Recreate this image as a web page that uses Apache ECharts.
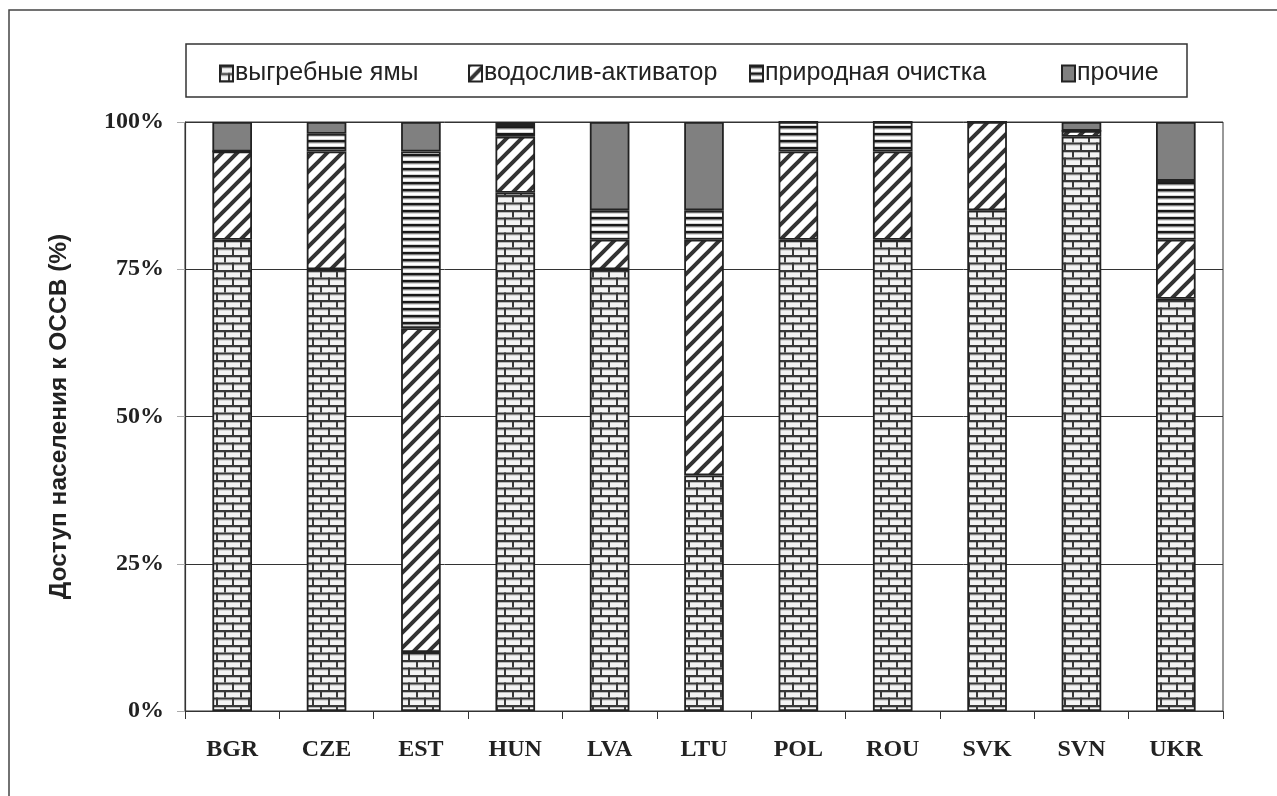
<!DOCTYPE html>
<html>
<head>
<meta charset="utf-8">
<script src="https://cdn.jsdelivr.net/npm/echarts@6/dist/echarts.min.js"></script>
<style>
html,body{margin:0;padding:0;background:#fff;}
#chart{width:1277px;height:796px;}
</style>
</head>
<body>
<div id="chart"></div>
<script>
// ---- data ----
const categories = ['BGR','CZE','EST','HUN','LVA','LTU','POL','ROU','SVK','SVN','UKR'];
const seriesNames = ['выгребные ямы','водослив-активатор','природная очистка','прочие'];
const pits      = [80, 75, 10, 88,  75, 40, 80, 80, 85, 97.5, 70];
const activator = [15, 20, 55, 9.5,  5, 40, 15, 15, 15, 1,    10];
const natural   = [ 0,  3, 30, 2,    5,  5,  5,  5,  0, 0,    10];
const other     = [ 5,  2,  5, 0.5, 15, 15,  0,  0,  0, 1.5,  10];
const yTicks = [0, 25, 50, 75, 100];

// ---- patterns ----
function makeCanvas(w, h) { const c = document.createElement('canvas'); c.width = w; c.height = h; return c; }
function brick() {
  const W = 32, H = 15, c = makeCanvas(W, H), g = c.getContext('2d');
  g.fillStyle = '#f3f3f3'; g.fillRect(0, 0, W, H);
  g.fillStyle = '#bbb';
  g.fillRect(0, 2, W, 1); g.fillRect(0, 9.5, W, 1);
  g.fillStyle = '#383838';
  g.fillRect(0, 0, W, 2); g.fillRect(0, 7.5, W, 2);
  g.fillRect(0, 0, 2, 7.5); g.fillRect(16, 0, 2, 7.5);
  g.fillRect(8, 7.5, 2, 7.5); g.fillRect(24, 7.5, 2, 7.5);
  return c;
}
function diag() {
  const s = 15, c = makeCanvas(s, s), g = c.getContext('2d');
  g.fillStyle = '#fff'; g.fillRect(0, 0, s, s);
  g.strokeStyle = '#333'; g.lineWidth = 4; g.lineCap = 'square';
  g.beginPath();
  g.moveTo(-s, s); g.lineTo(s, -s);
  g.moveTo(0, s); g.lineTo(s, 0);
  g.moveTo(0, 2 * s); g.lineTo(2 * s, 0);
  g.stroke();
  return c;
}
function hstripe() {
  const c = makeCanvas(4, 7.3 * 10 / 10 | 0 || 7), g = c.getContext('2d');
  const h = c.height;
  g.fillStyle = '#fff'; g.fillRect(0, 0, 4, h);
  g.fillStyle = '#1a1a1a'; g.fillRect(0, 0, 4, 2.6);
  g.fillStyle = '#999'; g.fillRect(0, 2.6, 4, 0.8);
  g.fillStyle = '#ccc'; g.fillRect(0, h - 0.8, 4, 0.8);
  return c;
}
const fills = [
  { image: brick(), repeat: 'repeat' },
  { image: diag(), repeat: 'repeat' },
  { image: hstripe(), repeat: 'repeat' },
  '#808080'
];
const values = [pits, activator, natural, other];

const chart = echarts.init(document.getElementById('chart'), null, { renderer: 'canvas' });

const legendX = [219, 468, 749, 1061];
const legends = seriesNames.map((n, i) => ({
  data: [n],
  left: legendX[i],
  top: 61,
  orient: 'horizontal',
  itemWidth: 13,
  itemHeight: 16,
  itemGap: 0,
  icon: 'rect',
  padding: 0,
  selectedMode: false,
  textStyle: { fontFamily: 'Liberation Sans', fontSize: 25, color: '#222', padding: [0, 0, 0, -3] }
}));

const option = {
  animation: false,
  backgroundColor: '#fff',
  graphic: [
    { type: 'rect', shape: { x: 9, y: 10, width: 1300, height: 820 }, style: { fill: 'none', stroke: '#444', lineWidth: 1.5 }, silent: true },
    { type: 'rect', shape: { x: 186, y: 44, width: 1001, height: 53 }, style: { fill: 'none', stroke: '#333', lineWidth: 1.5 }, silent: true }
  ],
  legend: legends,
  grid: { left: 185, right: 54, top: 122, bottom: 85, show: true, borderColor: '#333', borderWidth: 1, backgroundColor: 'transparent' },
  xAxis: {
    type: 'category',
    data: categories,
    boundaryGap: true,
    axisLine: { lineStyle: { color: '#333', width: 1.2 } },
    axisTick: { show: true, alignWithLabel: false, length: 8, inside: false, lineStyle: { color: '#333' } },
    axisLabel: { margin: 27, fontFamily: 'Liberation Serif', fontWeight: 'bold', fontSize: 24, color: '#222' }
  },
  yAxis: {
    type: 'value',
    min: yTicks[0], max: yTicks[yTicks.length - 1], interval: 25,
    name: 'Доступ населения к ОССВ (%)',
    nameLocation: 'middle',
    nameGap: 113,
    nameTextStyle: { fontFamily: 'Liberation Sans', fontWeight: 'bold', fontSize: 24.5, color: '#222' },
    axisLine: { show: true, lineStyle: { color: '#333', width: 1.2 } },
    axisTick: { show: true, length: 8, lineStyle: { color: '#aaa' } },
    axisLabel: { margin: 21, formatter: '{value}%', fontFamily: 'Liberation Serif', fontWeight: 'bold', fontSize: 24, color: '#222' },
    splitLine: { show: true, lineStyle: { color: '#333', width: 1 } }
  },
  series: seriesNames.map((n, i) => ({
    name: n,
    type: 'bar',
    stack: 'total',
    barWidth: '42%',
    data: values[i],
    itemStyle: { color: fills[i], borderColor: '#222', borderWidth: 1.8 },
    emphasis: { disabled: true }
  }))
};
chart.setOption(option);
</script>
</body>
</html>
